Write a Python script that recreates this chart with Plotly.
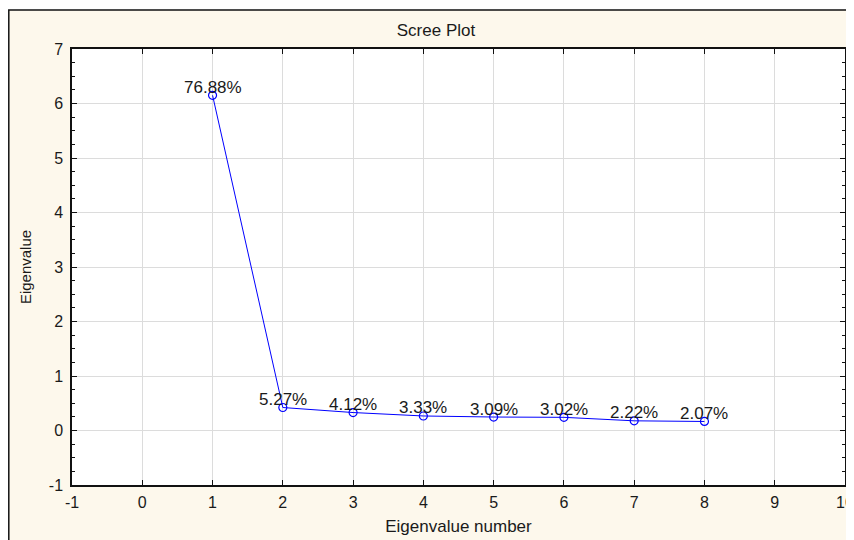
import plotly.graph_objects as go

# Data
eig_num = [1, 2, 3, 4, 5, 6, 7, 8]
pct = [76.88, 5.27, 4.12, 3.33, 3.09, 3.02, 2.22, 2.07]
n_vars = 8
eigenvalues = [p * n_vars / 100.0 for p in pct]
labels = [f"{p:.2f}%" for p in pct]

x_ticks = list(range(-1, 11))
y_ticks = list(range(-1, 8))

W, H = 854, 540
OFF = 8  # page body margin offset
L, R, T, B = 72 - OFF, 845 - OFF, 49 - OFF, 485 - OFF

FONT = "Liberation Sans, Arial, sans-serif"
TXT = "#1a1a1a"

fig = go.Figure()
fig.add_trace(go.Scatter(
    x=eig_num, y=eigenvalues, mode="lines+markers",
    line=dict(color="#0000FF", width=1),
    marker=dict(symbol="circle-open", size=8, color="#0000FF", line=dict(width=1.2, color="#0000FF")),
    showlegend=False, hoverinfo="skip",
))

annotations = []
for xv, yv, t in zip(eig_num, eigenvalues, labels):
    annotations.append(dict(x=xv, y=yv, text=t, showarrow=False, xref="x", yref="y",
                            yshift=8, font=dict(family=FONT, size=17, color=TXT)))

pw = R - L
ph = B - T
def px_x(p):
    return (p - OFF - L) / pw
def px_y(p):
    return (B - (p - OFF)) / ph

shapes = [
    dict(type="rect", xref="paper", yref="paper", x0=px_x(8.8), x1=px_x(W + 30), y0=px_y(H + 30), y1=px_y(10),
         fillcolor="#FDF8EC", line=dict(color="#111111", width=1.5), layer="below"),
    dict(type="rect", xref="paper", yref="paper", x0=0, x1=1, y0=0, y1=1,
         fillcolor="white", line=dict(width=0), layer="below"),
]

axis_common = dict(
    showline=True, linecolor="#111111", linewidth=1.5, mirror="ticks",
    ticks="inside", ticklen=5, tickcolor="#111111", tickwidth=1,
    showgrid=True, gridcolor="#DCDCDC", gridwidth=1, zeroline=False,
    tickfont=dict(family=FONT, size=16, color=TXT), automargin=False,
)

fig.update_layout(
    width=W, height=H,
    margin=dict(l=L, r=W - R, t=T, b=H - B, pad=0, autoexpand=False),
    paper_bgcolor="white", plot_bgcolor="white",
    title=dict(text="Scree Plot", x=px_x(436), xanchor="center", y=1 - (30 - OFF) / H, yanchor="middle",
               xref="paper", font=dict(family=FONT, size=17, color=TXT)),
    xaxis=dict(range=[-1, 10], tickvals=x_ticks, ticktext=[str(v) for v in x_ticks],
               title=dict(text="Eigenvalue number", font=dict(family=FONT, size=17, color=TXT), standoff=10),
               ticklabelstandoff=2, **axis_common),
    yaxis=dict(range=[-1, 7], tickvals=y_ticks, ticktext=[str(v) for v in y_ticks],
               title=dict(text="Eigenvalue", font=dict(family=FONT, size=15, color=TXT), standoff=14),
               ticklabelstandoff=4,
               minor=dict(dtick=0.25, ticks="inside", ticklen=3, tickcolor="#111111", showgrid=False),
               **axis_common),
    shapes=shapes,
    annotations=annotations,
)

fig.write_html("out.html")
